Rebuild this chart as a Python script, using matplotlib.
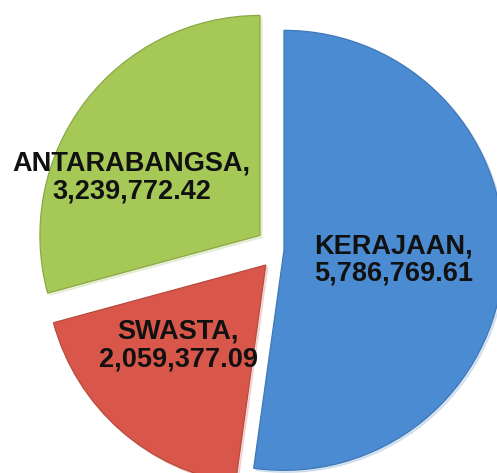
import numpy as np
from matplotlib import pyplot as plt

# > chart data
categories = ['KERAJAAN', 'SWASTA', 'ANTARABANGSA']
values = [5786769.61, 2059377.09, 3239772.42]
value_labels = ['5,786,769.61', '2,059,377.09', '3,239,772.42']


def main():
    # figure in pixel units so the pie sits where the reference has it
    width_px, height_px = 497, 473
    fig = plt.figure(figsize=(width_px / 100, height_px / 100), dpi=100)
    ax = fig.add_axes([0, 0, 1, 1])

    face_colors = ['#4b8bd1', '#d9574a', '#a6c856']
    edge_colors = ['#3f78b8', '#b84a3e', '#8aa845']
    # explode is in data units (pixels here)
    explode = [5, 20, 24]

    wedges, _ = ax.pie(
        values,
        startangle=90,
        counterclock=False,
        explode=explode,
        colors=face_colors,
        center=(279, 223),
        radius=220,
        frame=True,
        shadow={'ox': 1.5, 'oy': -1.5, 'shade': 0.1, 'alpha': 0.18},
        wedgeprops={'linewidth': 0.9},
    )
    for wedge, edge in zip(wedges, edge_colors):
        wedge.set_edgecolor(edge)
    ax.set_xlim(0, width_px)
    ax.set_ylim(0, height_px)
    ax.set_aspect('equal')
    ax.axis('off')

    # label placement: distance (fraction of radius) and angle tweak per slice
    label_dist = [0.50, 0.54, 0.64]
    angle_shift = [-1.0, -6.0, 13.0]
    for wedge, name, val, dist, shift in zip(wedges, categories, value_labels, label_dist, angle_shift):
        mid = np.deg2rad((wedge.theta1 + wedge.theta2) / 2 + shift)
        cx, cy = wedge.center
        x = cx + dist * wedge.r * np.cos(mid)
        y = cy + dist * wedge.r * np.sin(mid)
        ax.text(x, y, name + ',\n' + val, ha='center', va='center',
                fontsize=19.5, fontweight='bold', family='Liberation Sans',
                color='#111111', linespacing=1.08, zorder=5)

    fig.savefig('out.png', dpi=100)


if __name__ == '__main__':
    main()
